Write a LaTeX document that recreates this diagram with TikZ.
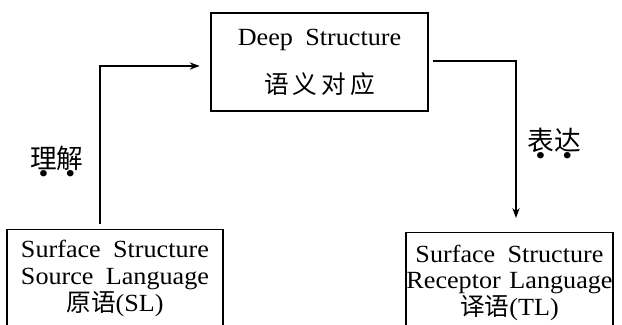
\documentclass[tikz,border=0pt]{standalone}
\usepackage{fontspec}
\setmainfont[FakeStretch=1.06]{Liberation Serif}
\newfontfamily\cjk{Noto Sans CJK SC}
\usetikzlibrary{arrows.meta}

% emphasis dot under a Chinese character
\newcommand\zhdot[1]{\ooalign{#1\cr\hidewidth\raisebox{-11pt}{\rmfamily\fontsize{20}{20}\selectfont\textbullet}\hidewidth\cr}}
% wider gaps between words
\newcommand\widesp{\spaceskip=0.5em\relax}

\begin{document}
\begin{tikzpicture}[
    x=0.75pt, y=-0.75pt,
    box/.style={draw, line width=1pt, inner xsep=0pt, align=center,
        font=\fontsize{18.5}{20}\selectfont, execute at begin node=\widesp},
    lbl/.style={inner sep=0pt, anchor=base, font=\cjk\fontsize{20}{20}\selectfont},
    conn/.style={line width=0.8pt, -{Stealth[length=7.5pt, width=5.5pt]}}
]
\useasboundingbox (0,0) rectangle (622,325);
\clip (0,0) rectangle (622,325);

\node[box, minimum width=162.75pt, minimum height=73.5pt] (deep) at (319.5,62)
    {Deep Structure\\[16pt]{\cjk 语\hspace{3pt}义\hspace{3pt}对\hspace{3pt}应}};
\node[box, anchor=north, text width=162pt, inner ysep=8pt] (src) at (115,229)
    {Surface Structure\\Source Language\\{\cjk 原语}(SL)\rule[-60pt]{0pt}{0pt}};
\node[box, anchor=north, text width=155.25pt, inner ysep=9pt] (tgt) at (509.5,232)
    {Surface Structure\\\makebox[\linewidth]{\spaceskip=0.35em\relax Receptor Language}\\
     {\cjk 译语}(TL)\rule[-60pt]{0pt}{0pt}};

\node[lbl] (und) at (57,168) {\zhdot{理}\zhdot{解}};
\node[lbl] (expr) at (554,150) {\zhdot{表}\zhdot{达}};

% bends of the two connectors
\coordinate (c1) at (100,66);
\coordinate (c2) at (516,61);

\draw[conn, shorten <=4pt, shorten >=8pt] (src.north -| c1) |- (c1 -| deep.west);
\draw[conn, shorten <=3pt, shorten >=10.5pt] (deep.east |- c2) -| (c2 |- tgt.north);

\end{tikzpicture}
\end{document}
